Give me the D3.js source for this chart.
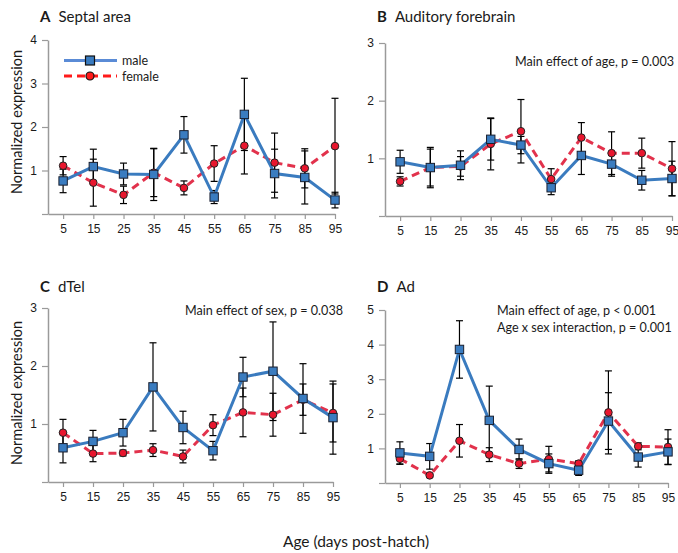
<!DOCTYPE html>
<html>
<head>
<meta charset="utf-8">
<script src="https://cdn.jsdelivr.net/npm/d3@7"></script>
<style>
  body { margin: 0; background: #fff; }
  svg { display: block; font-family: Lato, "Open Sans", sans-serif; }
</style>
</head>
<body>
<svg id="chart" width="678" height="553"></svg>
<script>
// ---------------- DATA ----------------
const ages = [5, 15, 25, 35, 45, 55, 65, 75, 85, 95];

const septalMale     = [0.76, 1.09, 0.92, 0.91, 1.82, 0.39, 2.29, 0.93, 0.84, 0.32];
const septalMaleSE   = [0.27, 0.40, 0.25, 0.60, 0.42, 0.15, 0.83, 0.56, 0.61, 0.18];
const septalFemale   = [1.11, 0.72, 0.44, 0.95, 0.60, 1.16, 1.57, 1.18, 1.05, 1.56];
const septalFemaleSE = [0.21, 0.54, 0.20, 0.55, 0.16, 0.41, 0.65, 0.68, 0.45, 1.10];

const audMale     = [0.94, 0.84, 0.88, 1.33, 1.23, 0.49, 1.05, 0.90, 0.62, 0.65];
const audMaleSE   = [0.20, 0.35, 0.25, 0.36, 0.15, 0.12, 0.33, 0.21, 0.17, 0.30];
const audFemale   = [0.60, 0.84, 0.86, 1.25, 1.47, 0.64, 1.36, 1.09, 1.09, 0.82];
const audFemaleSE = [0.08, 0.32, 0.17, 0.45, 0.55, 0.18, 0.26, 0.37, 0.26, 0.47];

const dtelMale     = [0.59, 0.70, 0.85, 1.64, 0.94, 0.54, 1.81, 1.91, 1.44, 1.11];
const dtelMaleSE   = [0.26, 0.19, 0.23, 0.76, 0.28, 0.16, 0.34, 0.85, 0.60, 0.63];
const dtelFemale   = [0.85, 0.49, 0.50, 0.55, 0.44, 0.98, 1.20, 1.16, 1.42, 1.19];
const dtelFemaleSE = [0.23, 0.14, 0.05, 0.11, 0.11, 0.18, 0.42, 0.37, 0.27, 0.50];

const adMale     = [0.87, 0.77, 3.86, 1.81, 0.97, 0.56, 0.37, 1.79, 0.75, 0.90];
const adMaleSE   = [0.32, 0.37, 0.83, 0.99, 0.30, 0.28, 0.15, 0.82, 0.29, 0.37];
const adFemale   = [0.70, 0.22, 1.22, 0.82, 0.56, 0.69, 0.56, 2.04, 1.06, 1.04];
const adFemaleSE = [0.16, 0.05, 0.47, 0.20, 0.14, 0.37, 0.08, 1.20, 0.10, 0.50];

const seriesNames = ["male", "female"];
const panelLetters = ["A", "B", "C", "D"];
const panelTitles = ["Septal area", "Auditory forebrain", "dTel", "Ad"];
const panelYMax = [4, 3, 3, 5];
const panelNotes = [
  [],
  ["Main effect of age, p = 0.003"],
  ["Main effect of sex, p = 0.038"],
  ["Main effect of age, p < 0.001", "Age x sex interaction, p = 0.001"]
];
const yAxisTitle = "Normalized expression";
const xAxisTitle = "Age (days post-hatch)";

// ---------------- LAYOUT ----------------
const panels = [
  { male: septalMale, maleSE: septalMaleSE, female: septalFemale, femaleSE: septalFemaleSE,
    x0: 48, x1: 335, yBottom: 214, yTop: 40, titleY: 22, noteX: 674, noteY: 66, noteAnchor: "end" },
  { male: audMale, maleSE: audMaleSE, female: audFemale, femaleSE: audFemaleSE,
    x0: 385, x1: 672, yBottom: 216, yTop: 43, titleY: 22, noteX: 674, noteY: 66, noteAnchor: "end" },
  { male: dtelMale, maleSE: dtelMaleSE, female: dtelFemale, femaleSE: dtelFemaleSE,
    x0: 48, x1: 333, yBottom: 482, yTop: 308, titleY: 292, noteX: 343, noteY: 315, noteAnchor: "end" },
  { male: adMale, maleSE: adMaleSE, female: adFemale, femaleSE: adFemaleSE,
    x0: 385, x1: 668, yBottom: 483, yTop: 310, titleY: 292, noteX: 497, noteY: 315, noteAnchor: "start" }
];

const maleLine = "#3a7bbf", maleFill = "#3a7cc0";
const femaleLine = "#e2324c", femaleFill = "#e8162e";
const axisColor = "#9a9a9a";
const textColor = "#1a1a1a";

const svg = d3.select("#chart");

panels.forEach((p, i) => {
  const g = svg.append("g");
  const x = d3.scaleLinear().domain([0, 95]).range([p.x0, p.x1]);
  const y = d3.scaleLinear().domain([0, panelYMax[i]]).range([p.yBottom, p.yTop]);

  // y axis
  const yAxis = d3.axisLeft(y)
    .tickValues(d3.range(0, panelYMax[i] + 1))
    .tickFormat(d => d === 0 ? "" : d)
    .tickSizeInner(6).tickSizeOuter(0).tickPadding(5);
  const ya = g.append("g").attr("transform", `translate(${p.x0},0)`).call(yAxis);
  ya.select(".domain").attr("stroke", axisColor).attr("stroke-width", 1.5);
  ya.selectAll(".tick line").attr("stroke", axisColor).attr("stroke-width", 1.2);
  ya.selectAll(".tick text").attr("fill", textColor).style("font-size", "12px");

  // x axis
  const xAxis = d3.axisBottom(x).tickValues(ages).tickFormat(d3.format("d"))
    .tickSizeInner(5).tickSizeOuter(0).tickPadding(5);
  const xa = g.append("g").attr("transform", `translate(0,${p.yBottom})`).call(xAxis);
  xa.select(".domain").attr("stroke", axisColor).attr("stroke-width", 1.5);
  xa.selectAll(".tick line").attr("stroke", axisColor).attr("stroke-width", 1.2);
  xa.selectAll(".tick text").attr("fill", textColor).style("font-size", "12px");

  // title
  const t = g.append("text").attr("x", p.x0 - 8).attr("y", p.titleY)
    .attr("fill", textColor).style("font-size", "15px");
  t.append("tspan").attr("font-weight", "bold").text(panelLetters[i]);
  t.append("tspan").attr("dx", 8).text(panelTitles[i]);

  // notes
  panelNotes[i].forEach((n, k) => {
    g.append("text").attr("x", p.noteX).attr("y", p.noteY + k * 17)
      .attr("text-anchor", p.noteAnchor).attr("fill", textColor)
      .style("font-size", "12.6px").text(n);
  });

  const series = [
    { name: "female", vals: p.female, se: p.femaleSE },
    { name: "male", vals: p.male, se: p.maleSE }
  ];

  // error bars
  series.forEach(s => {
    const eb = g.append("g").attr("stroke", "#000").attr("stroke-width", 1.2);
    ages.forEach((a, j) => {
      const lo = Math.max(0, s.vals[j] - s.se[j]), hi = s.vals[j] + s.se[j];
      const cx = x(a);
      eb.append("line").attr("x1", cx).attr("x2", cx).attr("y1", y(lo)).attr("y2", y(hi));
      eb.append("line").attr("x1", cx - 3.5).attr("x2", cx + 3.5).attr("y1", y(lo)).attr("y2", y(lo));
      eb.append("line").attr("x1", cx - 3.5).attr("x2", cx + 3.5).attr("y1", y(hi)).attr("y2", y(hi));
    });
  });

  const line = d3.line().x((d, j) => x(ages[j])).y(d => y(d));

  g.append("path").datum(p.female).attr("d", line).attr("fill", "none")
    .attr("stroke", femaleLine).attr("stroke-width", 3).attr("stroke-dasharray", "8,5");
  g.append("path").datum(p.male).attr("d", line).attr("fill", "none")
    .attr("stroke", maleLine).attr("stroke-width", 3);

  g.selectAll(".fm").data(p.female).enter().append("circle")
    .attr("cx", (d, j) => x(ages[j])).attr("cy", d => y(d)).attr("r", 3.8)
    .attr("fill", femaleFill).attr("stroke", "#222").attr("stroke-width", 1);
  g.selectAll(".mm").data(p.male).enter().append("rect")
    .attr("x", (d, j) => x(ages[j]) - 4.2).attr("y", d => y(d) - 4.2)
    .attr("width", 8.4).attr("height", 8.4)
    .attr("fill", maleFill).attr("stroke", "#1a2030").attr("stroke-width", 1);
});

// y-axis titles
[122, 393].forEach(cy => {
  svg.append("text").attr("transform", `translate(22,${cy}) rotate(-90)`)
    .attr("text-anchor", "middle").attr("fill", textColor)
    .style("font-size", "14.5px").text(yAxisTitle);
});

// x-axis title
svg.append("text").attr("x", 356).attr("y", 547).attr("text-anchor", "middle")
  .attr("fill", textColor).style("font-size", "15.5px").text(xAxisTitle);

// legend (panel A)
const leg = svg.append("g");
const legY = [60.5, 76];
seriesNames.forEach((name, k) => {
  const yy = legY[k];
  if (name === "male") {
    leg.append("line").attr("x1", 64).attr("x2", 117).attr("y1", yy).attr("y2", yy)
      .attr("stroke", "#5a8bd6").attr("stroke-width", 3);
    leg.append("rect").attr("x", 90 - 4.5).attr("y", yy - 4.5).attr("width", 9).attr("height", 9)
      .attr("fill", maleFill).attr("stroke", "#111").attr("stroke-width", 1.2);
  } else {
    leg.append("line").attr("x1", 64).attr("x2", 117).attr("y1", yy).attr("y2", yy)
      .attr("stroke", "#ff1a1a").attr("stroke-width", 3).attr("stroke-dasharray", "8,5");
    leg.append("circle").attr("cx", 90).attr("cy", yy).attr("r", 4)
      .attr("fill", "#ff1a1a").attr("stroke", "#111").attr("stroke-width", 1.2);
  }
  leg.append("text").attr("x", 122).attr("y", yy + 4.5).attr("fill", textColor)
    .style("font-size", "12.5px").text(name);
});
</script>
</body>
</html>
